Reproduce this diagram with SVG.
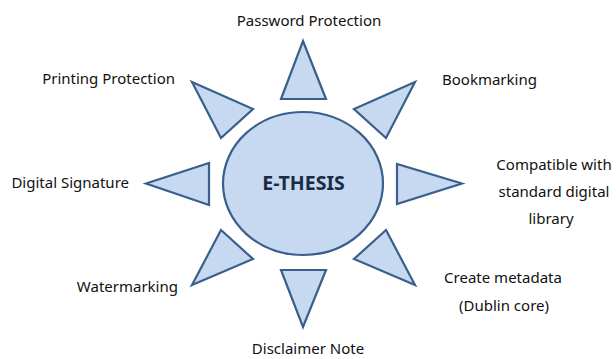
<svg xmlns="http://www.w3.org/2000/svg" width="616" height="359" viewBox="0 0 616 359">
<style>
.s{fill:#C6D9F1;stroke:#3A5F8A;stroke-width:2.2;stroke-linejoin:miter}
.t{font-family:"Noto Sans","DejaVu Sans",sans-serif;font-size:15px;fill:#111}
.c{font-family:"Noto Sans","DejaVu Sans",sans-serif;font-size:19.5px;font-weight:bold;fill:#1A2B45}
</style>
<rect width="616" height="359" fill="#fff"/>
<g id="center">
<ellipse class="s" cx="303" cy="183.5" rx="80" ry="71.5"/>
<text class="c" x="303.5" y="189.5" text-anchor="middle">E-THESIS</text>
</g>
<g id="password">
<polygon class="s" points="303,41 326,99 281,99"/>
<text class="t" x="309" y="26" text-anchor="middle">Password Protection</text>
</g>
<g id="bookmarking">
<polygon class="s" points="415,82 354,109 386,138"/>
<text class="t" x="442" y="85">Bookmarking</text>
</g>
<g id="compatible">
<polygon class="s" points="462,183.5 397,164 397,204"/>
<text class="t" x="554" y="170" text-anchor="middle">Compatible with</text>
<text class="t" x="554" y="197" text-anchor="middle">standard digital</text>
<text class="t" x="551" y="224" text-anchor="middle">library</text>
</g>
<g id="metadata">
<polygon class="s" points="386,230 354,259 415,285"/>
<text class="t" x="503" y="283" text-anchor="middle">Create metadata</text>
<text class="t" x="504" y="311" text-anchor="middle">(Dublin core)</text>
</g>
<g id="disclaimer">
<polygon class="s" points="281,270 326,270 303,327"/>
<text class="t" x="308" y="354" text-anchor="middle">Disclaimer Note</text>
</g>
<g id="watermarking">
<polygon class="s" points="221,230 253,259 192,285"/>
<text class="t" x="178" y="292" text-anchor="end">Watermarking</text>
</g>
<g id="signature">
<polygon class="s" points="146,183.5 209,163 209,205"/>
<text class="t" x="129" y="188" text-anchor="end">Digital Signature</text>
</g>
<g id="printing">
<polygon class="s" points="192,82 253,109 221,138"/>
<text class="t" x="175" y="84" text-anchor="end">Printing Protection</text>
</g>
<g id="connectors"></g>
</svg>
